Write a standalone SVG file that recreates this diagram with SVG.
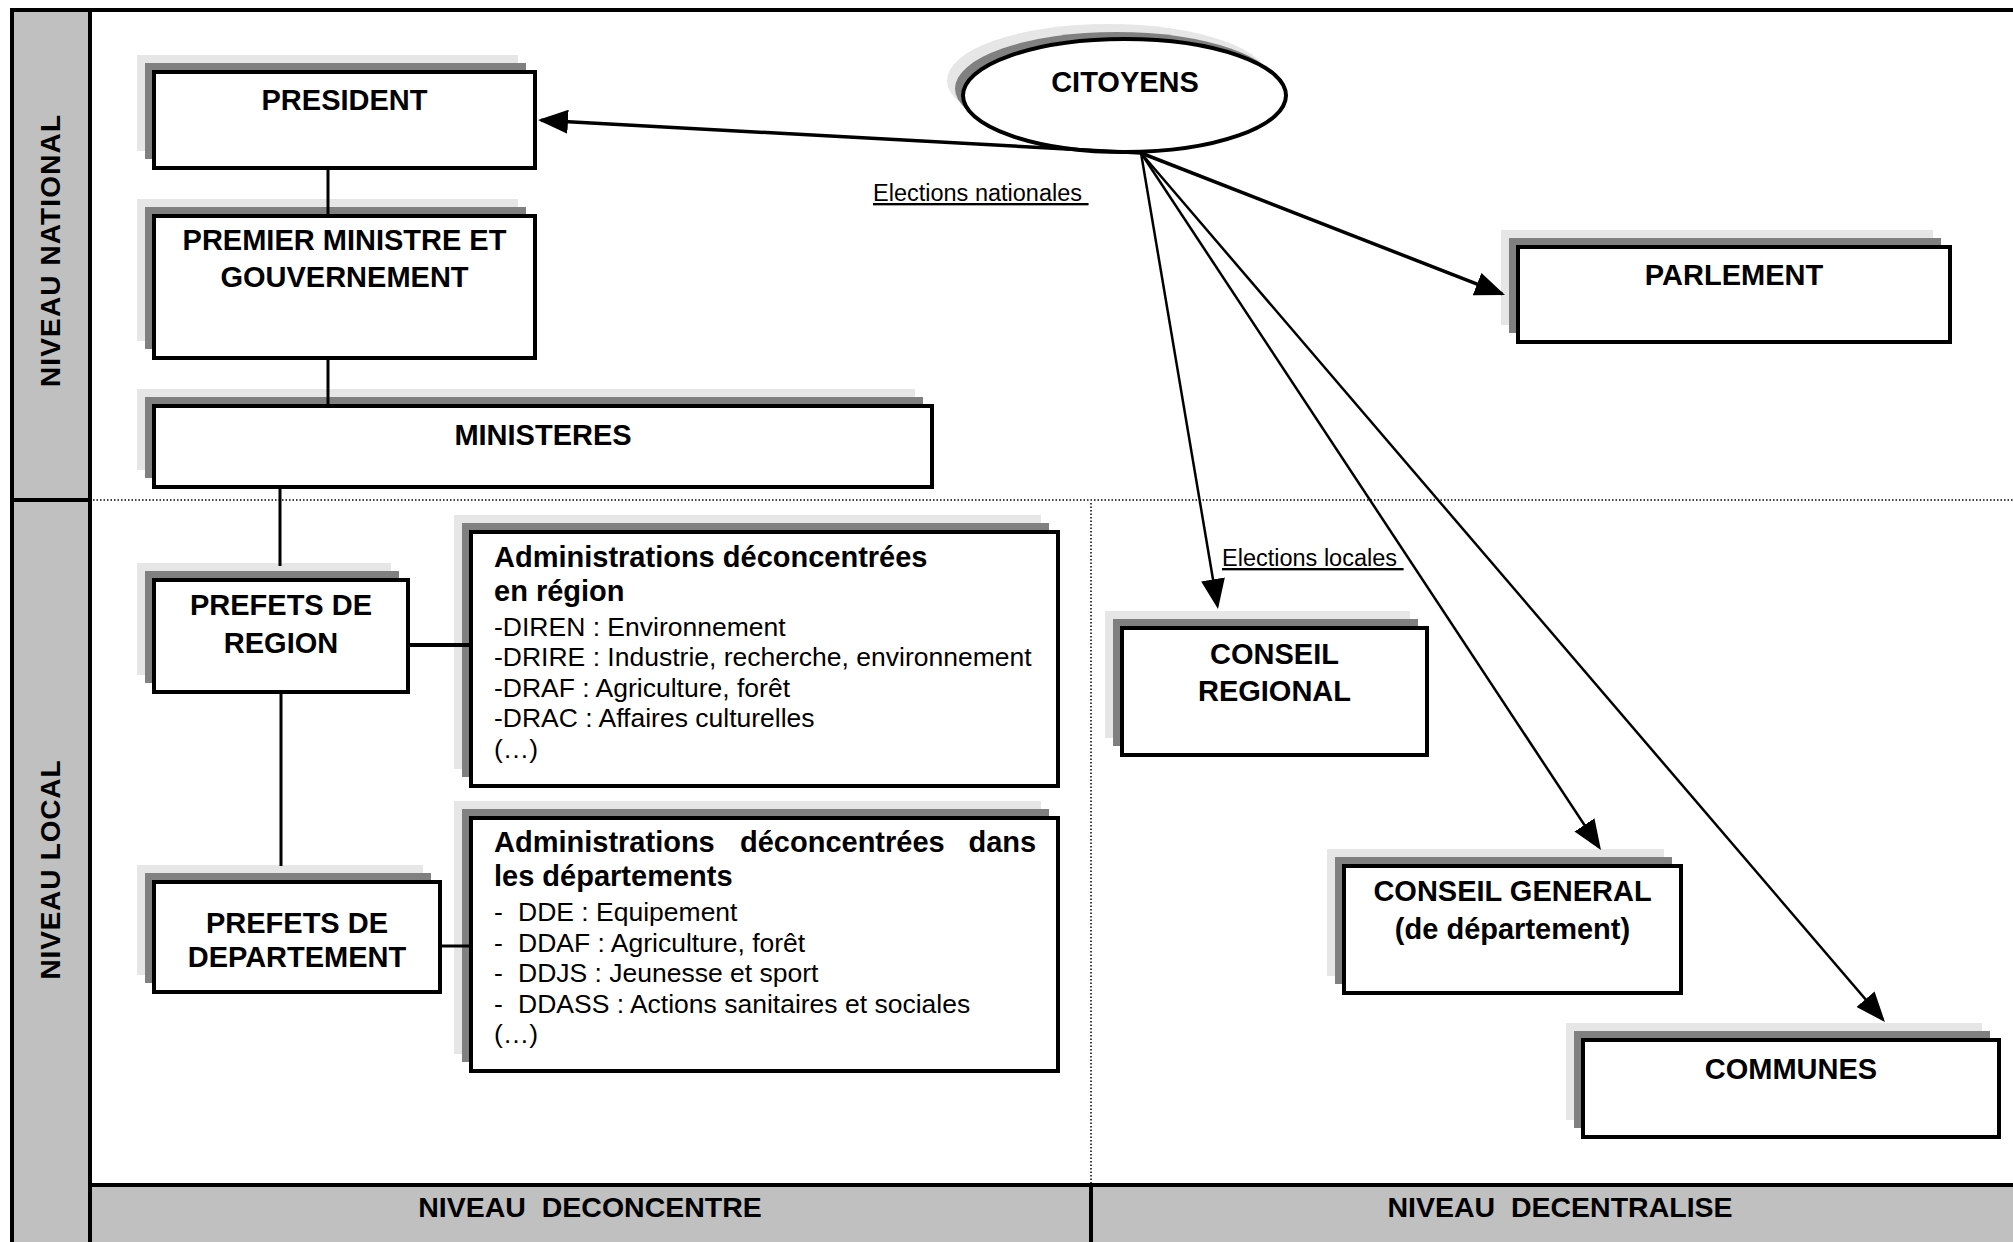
<svg xmlns="http://www.w3.org/2000/svg" width="2013" height="1242" viewBox="0 0 2013 1242">
<defs>
<style>
text{font-family:"Liberation Sans",Arial,sans-serif;fill:#000}
.lbl{font-weight:bold;font-size:29px;text-anchor:middle}
.bold{font-weight:bold;font-size:29px}
.reg{font-size:26.5px}
.vert{font-weight:bold;font-size:28px;text-anchor:middle}
.foot{font-weight:bold;font-size:28.5px;text-anchor:middle;white-space:pre}
.elec{font-size:23.5px;text-decoration:underline;white-space:pre}
.box{fill:#fff;stroke:#000;stroke-width:4}
.sh1{fill:#e6e6e6}
.sh2{fill:#808080}
.conn{stroke:#000;stroke-width:3;fill:none}
.an{stroke:#000;stroke-width:3.5;fill:none;marker-end:url(#ah)}
.al{stroke:#000;stroke-width:2.5;fill:none;marker-end:url(#ah)}
.dot{stroke:#000;stroke-width:1.5;stroke-dasharray:1.5 2;fill:none}
.band{fill:#c0c0c0}
.frame{stroke:#000;stroke-width:4;fill:none}
</style>
<marker id="ah" markerUnits="userSpaceOnUse" markerWidth="30" markerHeight="24" refX="27" refY="12" orient="auto">
<path d="M0,0 L30,12 L0,24 Z" fill="#000"/>
</marker>
</defs>
<rect x="0" y="0" width="2013" height="1242" fill="#fff"/>

<g id="frame">
<rect class="band" x="12" y="10" width="78" height="1232"/>
<rect class="band" x="90" y="1185" width="1923" height="57"/>
<path class="frame" d="M10,10 H2013 M12,10 V1242 M90,10 V1242 M12,500 H90 M90,1185 H2013 M1091,1185 V1242"/>
<path class="dot" d="M93,500 H2013 M1091,503 V1183"/>
<text class="vert" transform="translate(60,251) rotate(-90)" textLength="272" lengthAdjust="spacing">NIVEAU NATIONAL</text>
<text class="vert" transform="translate(60,870) rotate(-90)" textLength="219" lengthAdjust="spacing">NIVEAU LOCAL</text>
<text class="foot" x="590" y="1217">NIVEAU  DECONCENTRE</text>
<text class="foot" x="1560" y="1217">NIVEAU  DECENTRALISE</text>
</g>

<g id="president">
<rect class="sh1" x="137" y="55" width="381" height="96"/>
<rect class="sh2" x="145" y="63" width="381" height="96"/>
<rect class="box" x="154" y="72" width="381" height="96"/>
<text class="lbl" x="344.5" y="110">PRESIDENT</text>
</g>

<g id="premier-ministre">
<rect class="sh1" x="137" y="199" width="381" height="142"/>
<rect class="sh2" x="145" y="207" width="381" height="142"/>
<rect class="box" x="154" y="216" width="381" height="142"/>
<text class="lbl" x="344.5" y="250">PREMIER MINISTRE ET</text>
<text class="lbl" x="344.5" y="287">GOUVERNEMENT</text>
</g>

<g id="ministeres">
<rect class="sh1" x="137" y="389" width="778" height="81"/>
<rect class="sh2" x="145" y="397" width="778" height="81"/>
<rect class="box" x="154" y="406" width="778" height="81"/>
<text class="lbl" x="543" y="445">MINISTERES</text>
</g>

<g id="prefets-region">
<rect class="sh1" x="137" y="563" width="254" height="112"/>
<rect class="sh2" x="145" y="571" width="254" height="112"/>
<rect class="box" x="154" y="580" width="254" height="112"/>
<text class="lbl" x="281" y="615">PREFETS DE</text>
<text class="lbl" x="281" y="653">REGION</text>
</g>

<g id="prefets-departement">
<rect class="sh1" x="137" y="865" width="286" height="110"/>
<rect class="sh2" x="145" y="873" width="286" height="110"/>
<rect class="box" x="154" y="882" width="286" height="110"/>
<text class="lbl" x="297" y="933">PREFETS DE</text>
<text class="lbl" x="297" y="967">DEPARTEMENT</text>
</g>

<g id="admin-region">
<rect class="sh1" x="454" y="515" width="587" height="254"/>
<rect class="sh2" x="462" y="523" width="587" height="254"/>
<rect class="box" x="471" y="532" width="587" height="254"/>
<text class="bold" x="494" y="567">Administrations déconcentrées</text>
<text class="bold" x="494" y="601">en région</text>
<text class="reg" x="494" y="636">-DIREN : Environnement</text>
<text class="reg" x="494" y="666">-DRIRE : Industrie, recherche, environnement</text>
<text class="reg" x="494" y="697">-DRAF : Agriculture, forêt</text>
<text class="reg" x="494" y="727">-DRAC : Affaires culturelles</text>
<text class="reg" x="494" y="758">(…)</text>
</g>

<g id="admin-departements">
<rect class="sh1" x="454" y="801" width="587" height="253"/>
<rect class="sh2" x="462" y="809" width="587" height="253"/>
<rect class="box" x="471" y="818" width="587" height="253"/>
<text class="bold" y="852"><tspan x="494">Administrations</tspan><tspan x="740">déconcentrées</tspan><tspan x="968.5">dans</tspan></text>
<text class="bold" x="494" y="886">les départements</text>
<text class="reg" y="921"><tspan x="494">-</tspan><tspan x="518">DDE : Equipement</tspan></text>
<text class="reg" y="952"><tspan x="494">-</tspan><tspan x="518">DDAF : Agriculture, forêt</tspan></text>
<text class="reg" y="982"><tspan x="494">-</tspan><tspan x="518">DDJS : Jeunesse et sport</tspan></text>
<text class="reg" y="1013"><tspan x="494">-</tspan><tspan x="518">DDASS : Actions sanitaires et sociales</tspan></text>
<text class="reg" x="494" y="1043">(…)</text>
</g>

<g id="citoyens">
<ellipse class="sh1" cx="1108.5" cy="80.5" rx="161.5" ry="56.5"/>
<ellipse class="sh2" cx="1116.5" cy="88.5" rx="161.5" ry="56.5"/>
<ellipse class="box" cx="1124.5" cy="95.5" rx="161.5" ry="56.5"/>
<text class="lbl" x="1125" y="92">CITOYENS</text>
</g>

<g id="parlement">
<rect class="sh1" x="1501" y="230" width="432" height="95"/>
<rect class="sh2" x="1509" y="238" width="432" height="95"/>
<rect class="box" x="1518" y="247" width="432" height="95"/>
<text class="lbl" x="1734" y="285">PARLEMENT</text>
</g>

<g id="conseil-regional">
<rect class="sh1" x="1105" y="611" width="305" height="127"/>
<rect class="sh2" x="1113" y="619" width="305" height="127"/>
<rect class="box" x="1122" y="628" width="305" height="127"/>
<text class="lbl" x="1274.5" y="664">CONSEIL</text>
<text class="lbl" x="1274.5" y="701">REGIONAL</text>
</g>

<g id="conseil-general">
<rect class="sh1" x="1327" y="849" width="337" height="127"/>
<rect class="sh2" x="1335" y="857" width="337" height="127"/>
<rect class="box" x="1344" y="866" width="337" height="127"/>
<text class="lbl" x="1512.5" y="901">CONSEIL GENERAL</text>
<text class="lbl" x="1512.5" y="939">(de département)</text>
</g>

<g id="communes">
<rect class="sh1" x="1566" y="1023" width="416" height="97"/>
<rect class="sh2" x="1574" y="1031" width="416" height="97"/>
<rect class="box" x="1583" y="1040" width="416" height="97"/>
<text class="lbl" x="1791" y="1079">COMMUNES</text>
</g>

<g id="connectors">
<path class="conn" d="M328,168 V216 M328,358 V406 M280,487 V566 M281,692 V866 M440,946 H471"/>
<path class="conn" style="stroke-width:4" d="M408,645 H471"/>
<line class="an" x1="1141" y1="153" x2="541" y2="120.2"/>
<line class="an" x1="1141" y1="153" x2="1502.2" y2="293.9"/>
<line class="al" x1="1141" y1="153" x2="1217.5" y2="606"/>
<line class="al" x1="1141" y1="153" x2="1599.3" y2="847.5"/>
<line class="al" x1="1141" y1="153" x2="1883" y2="1019.7"/>
<text class="elec" x="873" y="201">Elections nationales </text>
<text class="elec" x="1222" y="566">Elections locales </text>
</g>
</svg>
